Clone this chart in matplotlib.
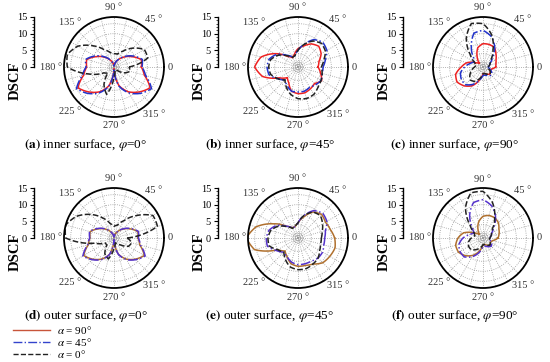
import numpy as np
import matplotlib.pyplot as plt
from matplotlib.lines import Line2D

plt.rcParams['font.family'] = ['Liberation Serif', 'DejaVu Serif']
plt.rcParams['mathtext.fontset'] = 'stix'

# incidence angle of each sample (degrees), DSCF
angles = list(range(0, 360, 15))

# inner surface, phi = 0
in0_a90 = [8.2, 8.5, 6.2, 4.2, 2.5, 1.2, 0.3, 1.2, 2.5, 4.2, 6.2, 8.5,
           8.2, 9.4, 12.5, 10.6, 8.6, 5.8, 0.5, 5.8, 8.6, 10.6, 12.5, 9.4]
in0_a45 = [8.4, 8.8, 6.6, 4.4, 2.6, 1.2, 0.3, 1.2, 2.6, 4.4, 6.6, 8.8,
           8.4, 9.8, 13.0, 11.2, 9.0, 6.0, 0.5, 6.0, 9.0, 11.2, 13.0, 9.8]
in0_a0 = [4.5, 10.5, 10.5, 8.0, 5.5, 4.0, 4.0, 4.5, 6.0, 9.0, 12.5, 14.5,
          14.0, 8.0, 3.5, 2.5, 6.0, 8.5, 3.0, 1.0, 1.0, 1.5, 3.5, 5.0]

# inner surface, phi = 45
in45_a90 = [6.0, 6.5, 8.0, 8.8, 8.0, 6.5, 5.5, 4.0, 3.2, 4.5, 8.0, 11.5,
            13.0, 11.0, 6.5, 4.5, 5.5, 7.5, 8.0, 8.0, 7.5, 7.0, 8.2, 7.0]
in45_a45 = [7.5, 8.5, 10.0, 10.5, 9.5, 7.0, 5.0, 3.5, 3.5, 5.0, 7.5, 9.0,
            9.3, 9.0, 7.0, 5.5, 6.5, 7.5, 7.5, 7.5, 7.0, 7.5, 8.0, 7.5]
in45_a0 = [7.0, 8.0, 9.5, 10.0, 9.0, 7.0, 5.0, 3.5, 3.3, 4.8, 7.0, 8.5,
           8.8, 8.5, 7.0, 5.5, 7.0, 8.5, 9.5, 9.8, 9.5, 8.5, 8.0, 7.5]

# inner surface, phi = 90
in90_a90 = [3.8, 4.0, 4.5, 5.5, 6.8, 7.0, 7.0, 6.0, 3.5, 1.5, 2.5, 5.0,
            6.5, 8.5, 9.0, 8.0, 6.5, 4.0, 2.0, 2.0, 2.5, 3.0, 2.5, 2.5]
in90_a45 = [1.5, 2.0, 2.5, 4.0, 7.0, 9.5, 11.0, 10.5, 7.0, 4.0, 3.0, 4.0,
            5.5, 7.0, 7.5, 7.5, 6.0, 4.0, 2.5, 2.5, 3.0, 3.5, 3.0, 2.0]
in90_a0 = [1.5, 2.0, 2.5, 3.5, 6.0, 10.0, 13.0, 13.5, 10.0, 5.5, 3.0, 2.0,
           2.5, 3.5, 4.5, 5.5, 5.0, 3.5, 2.0, 2.0, 2.5, 3.0, 2.5, 1.5]

# outer surface, phi = 0
out0_a90 = [7.2, 7.4, 5.5, 3.8, 2.3, 1.1, 0.3, 1.1, 2.3, 3.8, 5.5, 7.4,
            7.2, 8.0, 10.5, 9.0, 7.3, 5.0, 0.5, 5.0, 7.3, 9.0, 10.5, 8.0]
out0_a45 = [7.3, 7.6, 5.7, 3.9, 2.3, 1.1, 0.3, 1.1, 2.3, 3.9, 5.7, 7.6,
            7.3, 8.2, 10.8, 9.2, 7.5, 5.1, 0.5, 5.1, 7.5, 9.2, 10.8, 8.2]
out0_a0 = [4.0, 13.5, 13.5, 9.5, 6.0, 4.0, 3.5, 4.5, 7.0, 10.0, 13.0, 15.0,
           14.5, 6.0, 3.0, 3.0, 5.5, 6.5, 3.0, 1.5, 2.0, 3.0, 5.0, 5.5]

# outer surface, phi = 45
out45_a90 = [11.0, 10.0, 9.5, 10.0, 9.0, 6.5, 4.5, 3.5, 3.5, 5.0, 8.5, 13.0,
             15.5, 13.5, 7.0, 5.5, 6.5, 8.0, 8.5, 8.5, 9.0, 10.5, 11.0, 11.5]
out45_a45 = [8.0, 8.5, 10.0, 10.5, 9.5, 7.0, 4.5, 3.5, 3.5, 5.0, 7.5, 9.0,
             9.5, 9.5, 7.5, 6.0, 6.5, 7.5, 8.0, 8.0, 8.0, 8.5, 8.5, 8.0]
out45_a0 = [7.0, 7.5, 8.5, 9.5, 9.0, 7.0, 4.5, 3.5, 3.3, 4.8, 7.0, 8.5,
            9.0, 9.0, 7.0, 6.0, 7.5, 9.0, 9.5, 9.5, 9.0, 8.5, 7.5, 7.0]

# outer surface, phi = 90
out90_a90 = [4.5, 5.0, 5.5, 6.5, 7.0, 7.0, 6.5, 5.0, 3.0, 1.5, 3.0, 6.0,
             7.5, 8.5, 8.5, 7.5, 6.0, 4.0, 2.0, 2.0, 2.5, 3.0, 2.5, 3.0]
out90_a45 = [2.0, 2.5, 3.0, 4.5, 7.5, 10.0, 11.5, 11.0, 8.0, 4.5, 3.0, 4.0,
             6.0, 7.5, 8.0, 8.0, 6.5, 4.5, 2.5, 2.5, 3.0, 3.5, 3.0, 2.0]
out90_a0 = [2.0, 2.5, 3.0, 4.0, 7.0, 11.0, 14.0, 14.0, 10.5, 5.5, 3.0, 2.5,
            3.5, 4.5, 5.0, 5.0, 4.0, 3.0, 2.0, 2.0, 2.5, 3.0, 2.5, 2.0]

panels = [
    ("(a)", "inner", "0", [in0_a90, in0_a45, in0_a0]),
    ("(b)", "inner", "45", [in45_a90, in45_a45, in45_a0]),
    ("(c)", "inner", "90", [in90_a90, in90_a45, in90_a0]),
    ("(d)", "outer", "0", [out0_a90, out0_a45, out0_a0]),
    ("(e)", "outer", "45", [out45_a90, out45_a45, out45_a0]),
    ("(f)", "outer", "90", [out90_a90, out90_a45, out90_a0]),
]

# angle labels: text, direction (deg), distance from centre (in DSCF units)
angle_labels = [('0', 0, 16.9), ('45 °', 50, 18.6), ('90 °', 90, 17.7),
                ('135 °', 135, 18.8), ('180 °', 180, 18.9), ('225 °', 225, 18.8),
                ('270 °', 270, 17.7), ('315 °', 310, 18.6)]

W, H = 550, 362
R = 50
col_x = [114, 298, 483]
row_y = [67, 238]

top_colors = ['#ee2222', '#2233cc', '#222222']
bot_colors = ['#b0702e', '#5533cc', '#222222']
styles = ['-', '-.', '--']

fig = plt.figure(figsize=(W / 100, H / 100), dpi=100)

th = np.deg2rad(angles + [360])

for i, (tag, surf, phi, series) in enumerate(panels):
    cx = col_x[i % 3]
    cy = row_y[i // 3]
    colors = top_colors if i < 3 else bot_colors

    ax = fig.add_axes([(cx - R) / W, 1 - (cy + R) / H, 2 * R / W, 2 * R / H],
                      projection='polar')
    ax.set_thetagrids(range(0, 360, 15), [''] * 24)
    ax.set_rgrids([0.4, 0.8, 1.2, 1.6, 4, 7, 10, 13], labels=[])
    ax.set_rlim(0, 15)
    ax.grid(True, linestyle=':', color='#999999', linewidth=0.6)
    ax.spines['polar'].set_linewidth(1.3)
    for txt, a, r in angle_labels:
        ax.text(np.deg2rad(a), r, txt, fontsize=7.5, color='#333333',
                ha='center', va='center', clip_on=False)
    for vals, c, ls in zip(series, colors, styles):
        ln, = ax.plot(th, vals + vals[:1], color=c, linestyle=ls, linewidth=1.1)
        # let the polar transform draw each segment as a curve, not a chord
        ln.get_path()._interpolation_steps = 12

    # DSCF scale bar
    sax = fig.add_axes([(cx - 80) / W, 1 - cy / H, 0.001, R / H])
    sax.set_ylim(0, 15)
    sax.set_yticks([0, 5, 10, 15])
    sax.set_yticks(np.arange(0, 16, 1), minor=True)
    sax.set_xticks([])
    for s in ['top', 'right', 'bottom']:
        sax.spines[s].set_visible(False)
    sax.spines['left'].set_linewidth(1.0)
    sax.tick_params(axis='y', labelsize=7.5, length=3, width=0.8, pad=2)
    sax.tick_params(axis='y', which='minor', length=1.5, width=0.5)
    fig.text((cx - 99) / W, 1 - (cy + 14) / H, 'DSCF', rotation=90,
             fontsize=10.5, fontweight='bold', ha='center', va='center')

    fig.text((cx - 28) / W, 1 - (cy + 78) / H,
             rf'$\mathbf{{{tag}}}$ {surf} surface, $\varphi$={phi}°',
             fontsize=9.5, ha='center', va='center')

handles = [Line2D([], [], color='#c8553a', linestyle='-', linewidth=1.0),
           Line2D([], [], color='#3344cc', linestyle='-.', linewidth=1.0),
           Line2D([], [], color='#222222', linestyle='--', linewidth=1.0)]
fig.legend(handles, [r'$\alpha$ = 90°', r'$\alpha$ = 45°', r'$\alpha$ = 0°'],
           loc='upper left', bbox_to_anchor=(0.015, 0.118), frameon=False,
           fontsize=8, handlelength=3.4, labelspacing=0.02,
           borderaxespad=0, handletextpad=0.6)

fig.savefig('out.png', dpi=100)
